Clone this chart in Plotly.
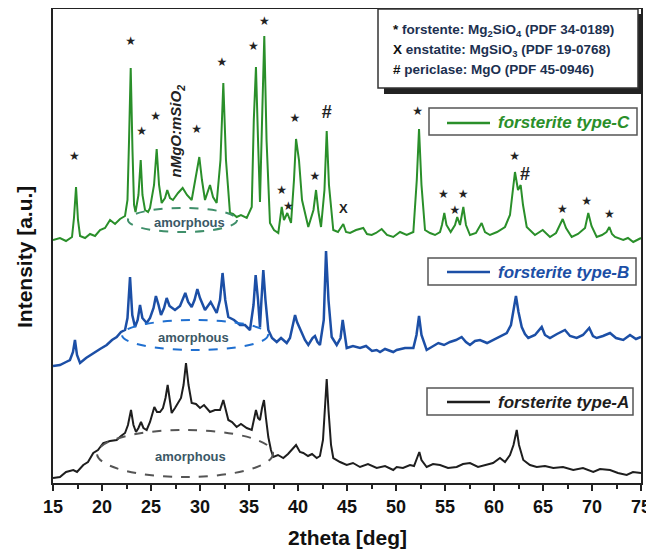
import plotly.graph_objects as go

# ---------------- data (2theta [deg], intensity [a.u.]) ----------------
two_theta_C = [15.0, 15.71, 16.33, 16.94, 17.14, 17.35, 17.55, 17.76, 18.27, 18.78, 19.29, 19.8, 20.31, 20.82, 21.33, 21.84,
               22.35, 22.6, 22.76, 22.93, 23.11, 23.27, 23.42, 23.72, 23.95, 24.13, 24.39, 24.7, 24.9, 25.31, 25.58, 25.82,
               26.09, 26.43, 26.66, 26.94, 27.24, 27.76, 28.23, 28.67, 29.15, 29.64, 29.93, 30.2, 30.51, 31.02, 31.33, 31.7,
               32.09, 32.38, 32.65, 33.06, 33.37, 33.74, 34.18, 34.77, 35.28, 35.49, 35.71, 35.92, 36.12, 36.36, 36.56, 36.79,
               37.14, 37.55, 37.99, 38.34, 38.57, 38.91, 39.29, 39.59, 39.8, 40.1, 40.41, 41.05, 41.58, 41.84, 42.09, 42.35,
               42.7, 42.93, 43.16, 43.6, 44.08, 44.62, 44.9, 45.31, 45.92, 46.66, 47.04, 47.52, 47.96, 48.54, 49.08, 49.72,
               50.41, 51.09, 51.77, 52.12, 52.35, 52.6, 52.96, 53.47, 53.98, 54.49, 54.69, 54.93, 55.15, 55.58, 56.02, 56.25,
               56.53, 56.87, 57.14, 57.55, 58.16, 58.74, 59.08, 59.59, 60.31, 61.12, 61.63, 62.14, 62.45, 62.72, 62.96, 63.34,
               64.18, 64.97, 65.71, 66.33, 67.01, 67.35, 67.93, 68.57, 69.29, 69.62, 69.95, 70.48, 71.02, 71.48, 71.77, 72.04,
               72.35, 73.19, 73.67, 74.21, 75.0]
intensity_C = [243, 245, 242, 246, 265, 296, 263, 247, 245, 249, 247, 253, 255, 263, 259, 264,
               267, 283, 343, 415, 333, 278, 271, 288, 323, 288, 273, 271, 275, 298, 334, 298,
               280, 285, 293, 285, 283, 290, 295, 288, 283, 308, 326, 303, 283, 298, 286, 280,
               323, 400, 323, 270, 269, 266, 268, 265, 276, 363, 416, 343, 281, 373, 447, 343,
               260, 253, 250, 276, 263, 270, 260, 303, 344, 323, 283, 256, 273, 293, 271, 256,
               293, 352, 298, 253, 251, 259, 251, 250, 253, 255, 249, 248, 250, 254, 248, 246,
               251, 248, 251, 303, 354, 298, 253, 250, 248, 251, 258, 270, 258, 251, 258, 266,
               258, 276, 258, 248, 250, 260, 251, 248, 251, 256, 268, 311, 293, 298, 278, 256,
               248, 253, 246, 250, 264, 255, 246, 249, 255, 270, 257, 246, 248, 251, 256, 249,
               246, 243, 245, 241, 245]

two_theta_B = [15.0, 15.71, 16.33, 16.73, 17.04, 17.24, 17.45, 17.76, 18.37, 19.11, 19.8, 20.48, 21.02, 21.5, 21.94, 22.35,
               22.6, 22.86, 23.09, 23.37, 23.64, 23.88, 24.12, 24.56, 24.9, 25.26, 25.5, 25.77, 26.02, 26.33, 26.6, 26.89,
               27.45, 27.96, 28.5, 28.79, 29.15, 29.44, 29.73, 30.0, 30.51, 31.09, 31.7, 32.04, 32.3, 32.58, 32.89, 33.47,
               34.08, 34.59, 35.1, 35.46, 35.68, 35.92, 36.12, 36.27, 36.46, 36.68, 36.97, 37.35, 37.83, 38.27, 38.85, 39.18,
               39.49, 39.7, 39.9, 40.38, 40.71, 41.05, 41.48, 41.73, 41.99, 42.24, 42.63, 42.86, 43.11, 43.44, 43.95, 44.34,
               44.56, 44.78, 44.97, 45.61, 46.33, 46.94, 47.55, 48.03, 48.37, 48.88, 49.72, 50.07, 50.92, 51.77, 52.09, 52.35,
               52.6, 53.13, 53.67, 54.32, 54.9, 55.51, 56.12, 56.7, 57.14, 57.55, 58.06, 58.57, 59.29, 59.93, 60.61, 61.3,
               61.73, 61.99, 62.24, 62.5, 62.83, 63.16, 63.5, 64.18, 64.87, 65.2, 65.71, 66.43, 67.24, 67.76, 68.44, 69.08,
               69.72, 70.1, 70.48, 71.12, 71.84, 72.45, 73.19, 73.88, 74.49, 75.0]
intensity_B = [117, 118, 121, 123, 131, 143, 128, 120, 125, 130, 134, 138, 143, 146, 151, 153,
               165, 206, 168, 156, 163, 178, 165, 160, 165, 175, 187, 178, 168, 175, 185, 177,
               173, 177, 190, 181, 176, 183, 194, 185, 173, 181, 170, 183, 210, 183, 166, 163,
               158, 158, 153, 178, 208, 183, 156, 183, 213, 183, 153, 145, 141, 145, 140, 145,
               158, 168, 161, 150, 143, 138, 145, 147, 141, 138, 163, 232, 183, 146, 138, 145,
               163, 148, 135, 137, 135, 137, 132, 133, 131, 134, 131, 133, 135, 135, 148, 167,
               148, 133, 136, 140, 138, 141, 143, 146, 141, 138, 142, 143, 140, 143, 146, 150,
               158, 173, 187, 171, 156, 149, 145, 148, 156, 148, 145, 149, 153, 147, 145, 148,
               155, 147, 145, 147, 150, 145, 143, 148, 144, 146]

two_theta_A = [15.0, 15.71, 16.33, 17.07, 17.45, 18.09, 18.57, 19.11, 19.59, 20.13, 20.82, 21.5, 21.94, 22.35, 22.65, 22.96,
               23.21, 23.47, 23.72, 23.98, 24.23, 24.56, 24.9, 25.1, 25.34, 25.61, 25.92, 26.22, 26.48, 26.7, 26.89, 27.11,
               27.45, 27.79, 28.06, 28.32, 28.57, 28.83, 29.15, 29.59, 30.0, 30.41, 31.02, 31.53, 32.04, 32.38, 32.65, 32.89,
               33.27, 33.74, 34.18, 34.77, 35.28, 35.51, 35.71, 35.92, 36.12, 36.33, 36.53, 36.73, 36.97, 37.24, 37.48, 37.96,
               38.5, 38.98, 39.39, 39.8, 40.2, 40.54, 41.02, 41.43, 41.91, 42.24, 42.55, 42.76, 42.93, 43.11, 43.37, 43.6,
               44.29, 44.97, 45.61, 46.33, 47.14, 48.03, 48.88, 49.72, 50.07, 50.71, 51.43, 51.84, 52.14, 52.38, 52.6, 53.13,
               53.78, 54.49, 55.31, 56.19, 56.84, 57.55, 58.37, 59.26, 59.9, 60.61, 61.12, 61.63, 61.99, 62.32, 62.55, 62.99,
               63.67, 64.36, 65.2, 66.05, 67.04, 68.09, 69.08, 70.13, 70.82, 71.84, 72.65, 73.54, 74.18, 75.0]
intensity_A = [5, 6, 11, 13, 11, 18, 21, 30, 33, 40, 42, 43, 47, 50, 58, 73,
               58, 51, 55, 61, 55, 53, 61, 68, 76, 71, 71, 75, 85, 98, 83, 70,
               75, 81, 85, 98, 120, 98, 80, 79, 75, 78, 71, 73, 73, 83, 71, 63,
               61, 56, 59, 55, 53, 63, 73, 65, 63, 75, 83, 65, 46, 33, 26, 28,
               25, 29, 33, 38, 31, 30, 27, 29, 25, 27, 43, 83, 104, 73, 38, 25,
               21, 18, 20, 16, 19, 15, 17, 13, 16, 15, 18, 17, 25, 31, 23, 16,
               19, 18, 15, 16, 19, 20, 16, 18, 20, 25, 21, 28, 38, 53, 38, 23,
               18, 16, 17, 15, 16, 13, 15, 11, 14, 13, 10, 8, 11, 10]

# phase markers (peak position, marker height)
forsterite_peaks = [17.17, 22.93, 24.05, 25.48, 29.66, 32.24, 35.44, 36.56, 38.34, 39.01, 39.69, 41.73,
                    52.21, 54.83, 56.02, 56.84, 62.11, 66.97, 69.46, 71.77]
forsterite_marks = [326, 441, 351, 366, 353, 420, 436, 461, 292, 276, 364, 306,
                    371, 288, 272, 288, 326, 273, 281, 268]
periclase_peaks = [42.93, 63.16]
periclase_marks = [370, 308]
enstatite_peaks = [44.62]
enstatite_marks = [273]

series_names = ["forsterite type-C", "forsterite type-B", "forsterite type-A"]
x_ticks = [15, 20, 25, 30, 35, 40, 45, 50, 55, 60, 65, 70, 75]

GREEN = "#2a8f2a"
BLUE = "#1c4fa6"
BLACK = "#1e1e1e"
FONT = "Liberation Sans, Arial, sans-serif"

# The page places the figure with an 8 px body margin; the plot area is
# sized so that it sits at page x 53..641 and page y 9..483.
PAGE_OFF = 8

fig = go.Figure()
fig.add_trace(go.Scatter(x=two_theta_A, y=intensity_A, mode="lines", line=dict(color=BLACK, width=2), name=series_names[2]))
fig.add_trace(go.Scatter(x=two_theta_B, y=intensity_B, mode="lines", line=dict(color=BLUE, width=2.5), name=series_names[1]))
fig.add_trace(go.Scatter(x=two_theta_C, y=intensity_C, mode="lines", line=dict(color=GREEN, width=2), name=series_names[0]))

fig.add_trace(go.Scatter(x=forsterite_peaks, y=forsterite_marks, mode="text", text=["★"] * len(forsterite_peaks),
                         textfont=dict(family="DejaVu Sans", size=12, color="#222"), textposition="middle center"))
fig.add_trace(go.Scatter(x=periclase_peaks, y=periclase_marks, mode="text", text=["<b>#</b>"] * len(periclase_peaks),
                         textfont=dict(family=FONT, size=18, color="#222"), textposition="middle center"))
fig.add_trace(go.Scatter(x=enstatite_peaks, y=enstatite_marks, mode="text", text=["<b>X</b>"] * len(enstatite_peaks),
                         textfont=dict(family=FONT, size=13, color="#222"), textposition="middle center"))

shapes = []
# amorphous ellipses
for (x0, x1, y0, y1, col) in [(22.65, 33.78, 251, 275, "#3f8f6a"),
                              (22.04, 36.94, 133, 163, "#1f6fd0"),
                              (19.49, 37.45, 6, 53, "#555555")]:
    shapes.append(dict(type="circle", xref="x", yref="y", x0=x0, x1=x1, y0=y0, y1=y1,
                       line=dict(color=col, width=2, dash="dash")))


def px_x(px):
    return (px - 53) / 588.0


def px_y(py):
    return (483 - py) / 474.0


# info box with shadow
shapes.append(dict(type="rect", xref="paper", yref="paper", x0=px_x(384), x1=px_x(643), y0=px_y(94), y1=px_y(14),
                   fillcolor="#222", line=dict(width=0), layer="above"))
shapes.append(dict(type="rect", xref="paper", yref="paper", x0=px_x(378), x1=px_x(638), y0=px_y(88), y1=px_y(9),
                   fillcolor="white", line=dict(color="#333", width=1.5), layer="above"))

# legend boxes
legend_rows = [(108, 135, 123, GREEN, series_names[0], 429, 637),
               (258, 285, 272, BLUE, series_names[1], 428, 636),
               (388, 415, 402, BLACK, series_names[2], 427, 633)]
annotations = []
for (top, bot, yc, col, name, bx0, bx1) in legend_rows:
    shapes.append(dict(type="rect", xref="paper", yref="paper", x0=px_x(bx0), x1=px_x(bx1), y0=px_y(bot), y1=px_y(top),
                       fillcolor="white", line=dict(color="#555", width=1.5), layer="above"))
    shapes.append(dict(type="line", xref="paper", yref="paper", x0=px_x(447), x1=px_x(490), y0=px_y(yc), y1=px_y(yc),
                       line=dict(color=col, width=2.5), layer="above"))
    annotations.append(dict(xref="paper", yref="paper", x=px_x(496), y=px_y(yc), xanchor="left", yanchor="middle",
                            text="<b><i>" + name + "</i></b>", showarrow=False,
                            font=dict(family=FONT, size=17, color=col)))

info_lines = [("*", "forstente: Mg<sub>2</sub>SiO<sub>4</sub> (PDF 34-0189)", 31),
              ("X", "enstatite: MgSiO<sub>3</sub> (PDF 19-0768)", 50),
              ("#", "periclase: MgO (PDF 45-0946)", 69)]
for sym, txt, yc in info_lines:
    annotations.append(dict(xref="paper", yref="paper", x=px_x(391), y=px_y(yc), xanchor="left", yanchor="middle",
                            text="<b><span style='color:#111'>" + sym + "</span> " + txt + "</b>", showarrow=False,
                            font=dict(family=FONT, size=13.5, color="#1c3050")))

for (xx, yy) in [(28.9, 261), (29.3, 146), (28.98, 27)]:
    annotations.append(dict(xref="x", yref="y", x=xx, y=yy, text="<b>amorphous</b>", showarrow=False,
                            font=dict(family=FONT, size=13, color="#3b5866")))

annotations.append(dict(xref="x", yref="y", x=27.6, y=352, text="<b><i>nMgO:mSiO<sub>2</sub></i></b>", showarrow=False,
                        textangle=-90, font=dict(family=FONT, size=15, color="#222")))

# axis titles as annotations (fixed placement)
annotations.append(dict(xref="paper", yref="paper", x=0.5, y=px_y(537), xanchor="center", yanchor="middle",
                        text="<b>2theta [deg]</b>", showarrow=False, font=dict(family=FONT, size=21, color="#111")))
annotations.append(dict(xref="paper", yref="paper", x=px_x(24), y=px_y(257), xanchor="center", yanchor="middle",
                        text="<b>Intensity [a.u.]</b>", showarrow=False, textangle=-90,
                        font=dict(family=FONT, size=21, color="#111")))

fig.update_layout(
    width=654 - PAGE_OFF, height=550 - PAGE_OFF,
    margin=dict(l=53 - PAGE_OFF, r=13, t=9 - PAGE_OFF, b=67, autoexpand=False),
    paper_bgcolor="white", plot_bgcolor="white",
    showlegend=False,
    shapes=shapes, annotations=annotations,
    font=dict(family=FONT, color="#111"),
)
fig.update_xaxes(range=[15, 75], tickvals=x_ticks, ticktext=["<b>%d</b>" % v for v in x_ticks],
                 ticks="outside", ticklen=6, tickwidth=1.5, tickcolor="#222",
                 minor=dict(dtick=2.5, tick0=15, ticks="outside", ticklen=4, tickwidth=1.5, tickcolor="#222"),
                 showline=True, linecolor="#222", linewidth=2, mirror=True, showgrid=False, zeroline=False,
                 tickfont=dict(family=FONT, size=18, color="#111"), automargin=False)
fig.update_yaxes(range=[0, 474], showticklabels=False, ticks="", showline=True, linecolor="#222", linewidth=2,
                 mirror=True, showgrid=False, zeroline=False, automargin=False)

fig.write_html("out.html")
